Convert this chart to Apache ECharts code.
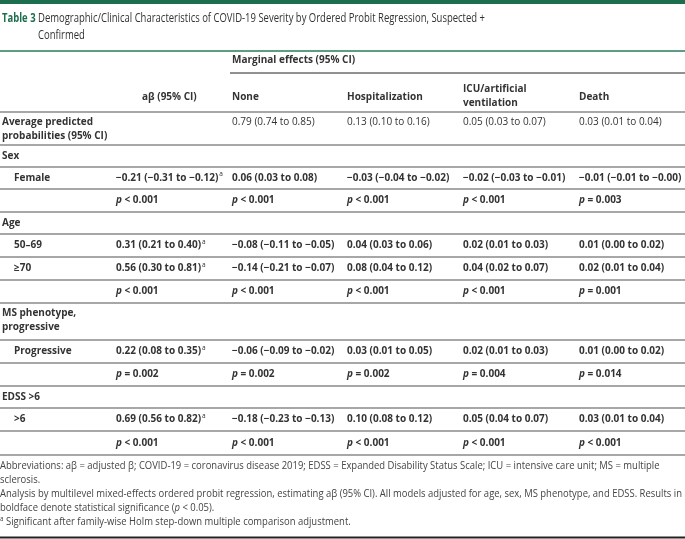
<!DOCTYPE html>
<html><head><meta charset="utf-8">
<script src="https://cdn.jsdelivr.net/npm/echarts@6/dist/echarts.min.js"></script>
<style>html,body{margin:0;padding:0;background:#fff}#c{width:685px;height:539px}</style>
</head><body><div id="c"></div>
<script>
// ---------------- DATA ----------------
const titleLabel = 'Table 3';
const titleLines = ['Demographic/Clinical Characteristics of COVID-19 Severity by Ordered Probit Regression, Suspected +', 'Confirmed'];
const spanHeader = 'Marginal effects (95% CI)';
const columnHeaders = ['', 'aβ (95% CI)', 'None', 'Hospitalization', 'ICU/artificial\nventilation', 'Death'];
const rowLabels = ['Average predicted\nprobabilities (95% CI)', 'Sex', 'Female', '', 'Age', '50–69', '≥70', '', 'MS phenotype,\nprogressive', 'Progressive', '', 'EDSS >6', '>6', ''];
const rowKinds = ['prob', 'section', 'item', 'p', 'section', 'item', 'item', 'p', 'section', 'item', 'p', 'section', 'item', 'p'];
const aBeta = ['', '', '−0.21 (−0.31 to −0.12)', 'p < 0.001', '', '0.31 (0.21 to 0.40)', '0.56 (0.30 to 0.81)', 'p < 0.001', '', '0.22 (0.08 to 0.35)', 'p = 0.002', '', '0.69 (0.56 to 0.82)', 'p < 0.001'];
const aBetaHolm = [false, false, true, false, false, true, true, false, false, true, false, false, true, false];
const effNone = ['0.79 (0.74 to 0.85)', '', '0.06 (0.03 to 0.08)', 'p < 0.001', '', '−0.08 (−0.11 to −0.05)', '−0.14 (−0.21 to −0.07)', 'p < 0.001', '', '−0.06 (−0.09 to −0.02)', 'p = 0.002', '', '−0.18 (−0.23 to −0.13)', 'p < 0.001'];
const effHosp = ['0.13 (0.10 to 0.16)', '', '−0.03 (−0.04 to −0.02)', 'p < 0.001', '', '0.04 (0.03 to 0.06)', '0.08 (0.04 to 0.12)', 'p < 0.001', '', '0.03 (0.01 to 0.05)', 'p = 0.002', '', '0.10 (0.08 to 0.12)', 'p < 0.001'];
const effICU = ['0.05 (0.03 to 0.07)', '', '−0.02 (−0.03 to −0.01)', 'p < 0.001', '', '0.02 (0.01 to 0.03)', '0.04 (0.02 to 0.07)', 'p < 0.001', '', '0.02 (0.01 to 0.03)', 'p = 0.004', '', '0.05 (0.04 to 0.07)', 'p < 0.001'];
const effDeath = ['0.03 (0.01 to 0.04)', '', '−0.01 (−0.01 to −0.00)', 'p = 0.003', '', '0.01 (0.00 to 0.02)', '0.02 (0.01 to 0.04)', 'p = 0.001', '', '0.01 (0.00 to 0.02)', 'p = 0.014', '', '0.03 (0.01 to 0.04)', 'p < 0.001'];
const footnotes = [
  'Abbreviations: aβ = adjusted β; COVID-19 = coronavirus disease 2019; EDSS = Expanded Disability Status Scale; ICU = intensive care unit; MS = multiple',
  'sclerosis.',
  'Analysis by multilevel mixed-effects ordered probit regression, estimating aβ (95% CI). All models adjusted for age, sex, MS phenotype, and EDSS. Results in',
  'boldface denote statistical significance (p < 0.05).',
  'a Significant after family-wise Holm step-down multiple comparison adjustment.'
];

// ---------------- LAYOUT ----------------
const W = 685, H = 539;
const FONT = '"Open Sans", "Noto Sans", sans-serif';
const TXT = '#333333';
const GREEN = '#1d6e4f';
const colX = [2, 116, 232, 347, 463, 579];
const headerX = [2, 142, 232, 347, 463, 579];
const itemIndent = 12;
const rowTop = [112, 145, 167, 189, 212, 234, 257, 280, 303, 340, 363, 386, 408, 431];
const rowEnd = 455;
const footY0 = 466, footStep = 14;

function measure(text, font) {
  const c = document.createElement('canvas').getContext('2d');
  c.font = font; return c.measureText(text).width;
}
const titleFont = '13px ' + FONT;
const titleScale = 447 / measure(titleLines[0], titleFont);
const footFont = '10.5px ' + FONT;
const footScale = Math.min(683 / measure(footnotes[0], footFont), 682 / measure(footnotes[2], footFont));

const rich = {
  b: { fontFamily: FONT, fontWeight: 'bold', fontSize: 10, fill: TXT, lineHeight: 14 },
  r: { fontFamily: FONT, fontWeight: 'normal', fontSize: 10, fill: TXT, lineHeight: 14 },
  i: { fontFamily: FONT, fontWeight: 'bold', fontStyle: 'italic', fontSize: 10, fill: TXT, lineHeight: 14 },
  s: { fontFamily: FONT, fontWeight: 'normal', fontSize: 6.5, fill: TXT, verticalAlign: 'top', lineHeight: 14, padding: [0, 0, 0, 1] },
  fr: { fontFamily: FONT, fontWeight: 'normal', fontSize: 10.5, fill: '#444', lineHeight: 14 },
  fi: { fontFamily: FONT, fontWeight: 'normal', fontStyle: 'italic', fontSize: 10.5, fill: '#444', lineHeight: 14 },
  fs: { fontFamily: FONT, fontWeight: 'normal', fontSize: 7, fill: '#444', verticalAlign: 'top', lineHeight: 14 },
  tg: { fontFamily: FONT, fontWeight: 'bold', fontSize: 13, fill: GREEN, lineHeight: 17 },
  tt: { fontFamily: FONT, fontWeight: 'normal', fontSize: 13, fill: TXT, lineHeight: 17 }
};

function cellText(str, isProbRow, holm) {
  if (!str) return '';
  if (str.startsWith('p ')) return '{i|p}{b|' + str.slice(1) + '}';
  const base = isProbRow ? '{r|' + str + '}' : '{b|' + str + '}';
  return holm ? base + '{s|a}' : base;
}

// Build text marks
const texts = [];
function rowCenter(r) {
  const top = rowTop[r], bot = r + 1 < rowTop.length ? rowTop[r + 1] : rowEnd;
  return (top + bot) / 2;
}
const valueCols = [aBeta, effNone, effHosp, effICU, effDeath];
rowLabels.forEach((lab, r) => {
  const twoLine = lab.indexOf('\n') >= 0;
  const y = twoLine ? rowTop[r] + 10.5 : rowCenter(r);
  if (lab) texts.push({ x: colX[0] + (rowKinds[r] === 'item' ? itemIndent : 0), y, text: lab.split('\n').map(s => '{b|' + s + '}').join('\n'), lines: twoLine ? 2 : 1 });
  valueCols.forEach((col, c) => {
    const s = cellText(col[r], rowKinds[r] === 'prob', c === 0 && aBetaHolm[r]);
    if (s) texts.push({ x: colX[c + 1], y, text: s, lines: 1 });
  });
});
// headers
texts.push({ x: colX[2], y: 60, text: '{b|' + spanHeader + '}', lines: 1 });
columnHeaders.forEach((h, c) => {
  if (!h) return;
  const n = h.split('\n').length;
  texts.push({ x: headerX[c], y: n > 1 ? 89.5 : 97, text: h.split('\n').map(s => '{b|' + s + '}').join('\n'), lines: n });
});
// title
texts.push({ x: 2, y: 18, text: '{tg|' + titleLabel + '}', lines: 1, scale: titleScale, lh: 17 });
texts.push({ x: 38, y: 18, text: titleLines.map(s => '{tt|' + s + '}').join('\n'), lines: titleLines.length, scale: titleScale, lh: 17 });
// footnotes
footnotes.forEach((f, k) => {
  let t;
  if (k === 3) t = '{fr|boldface denote statistical significance (}{fi|p}{fr| < 0.05).}';
  else if (k === 4) t = '{fs|a}{fr|' + f.slice(1) + '}';
  else t = '{fr|' + f + '}';
  texts.push({ x: 0, y: footY0 + k * footStep, text: t, lines: 1, scale: footScale });
});

// rules: [x1, x2, y, width, color]
const rules = [];
rules.push([0, W, 2, 4, GREEN]);
rules.push([0, W, 51, 2, '#5e9c83']);
rules.push([230, W, 73, 1, '#222']);
rowTop.forEach(y => rules.push([0, W, y, 1.5, '#8a8a8a']));
rules.push([0, W, rowEnd, 1.5, '#8a8a8a']);
rules.push([0, W, 537.5, 2, '#222']);

const chart = echarts.init(document.getElementById('c'), null, { renderer: 'canvas' });
chart.setOption({
  animation: false,
  grid: { left: 0, right: 0, top: 0, bottom: 0 },
  xAxis: { type: 'value', min: 0, max: W, show: false },
  yAxis: { type: 'value', min: 0, max: H, inverse: true, show: false },
  series: [
    {
      type: 'custom', silent: true, clip: false,
      data: rules.map(r => [r[0], r[2], r[1]]),
      renderItem: (params, api) => {
        const r = rules[params.dataIndex];
        const p1 = api.coord([api.value(0), api.value(1)]);
        const p2 = api.coord([api.value(2), api.value(1)]);
        return { type: 'line', shape: { x1: p1[0], y1: p1[1], x2: p2[0], y2: p2[1] }, style: { stroke: r[4], lineWidth: r[3] } };
      }
    },
    {
      type: 'custom', silent: true, clip: false,
      data: texts.map(t => [t.x, t.y]),
      renderItem: (params, api) => {
        const t = texts[params.dataIndex];
        const p = api.coord([api.value(0), api.value(1)]);
        const lh = t.lh || 14;
        return {
          type: 'text', x: p[0], y: p[1] - lh / 2, scaleX: t.scale || 1,
          style: { text: t.text, rich, align: 'left', verticalAlign: 'top', fill: TXT }
        };
      }
    }
  ]
});
</script>
</body></html>
